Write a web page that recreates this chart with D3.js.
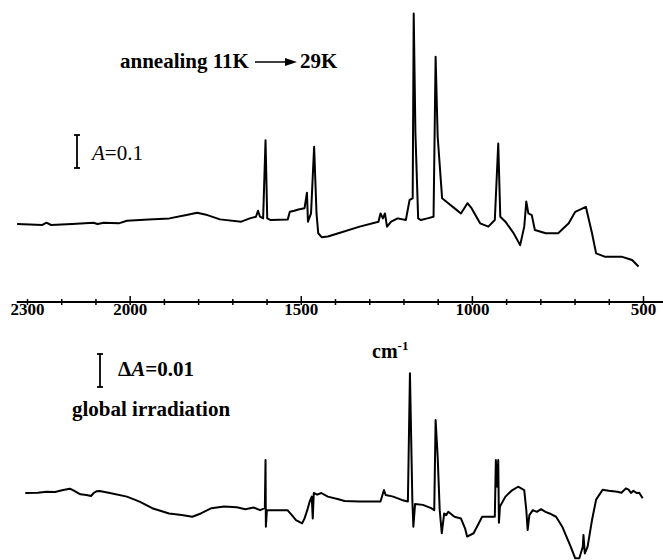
<!DOCTYPE html>
<html>
<head>
<meta charset="utf-8">
<title>IR difference spectra</title>
<style>
  body{margin:0;background:#fff;}
  svg{display:block;}
  text{font-family:"Liberation Serif","Times New Roman",serif;fill:#000;}
</style>
<script src="https://d3js.org/d3.v7.min.js"></script>
</head>
<body>
<script>
// top trace: annealing 11K -> 29K (absorbance)
var wnTop = [2329,2255,2243,2230,2168,2106,2094,2075,2032,2008,1945,1884,1834,1803,1773,1736,1674,1649,1631,1625,1619,1610,1603,1598,1588,1538,1532,1519,1507,1489,1482,1479,1470,1461,1454,1449,1439,1421,1390,1328,1273,1267,1260,1254,1248,1236,1217,1193,1182,1173,1170,1165,1157,1149,1130,1112,1106,1100,1087,1069,1044,1032,1013,1001,976,952,933,923,917,902,878,859,847,841,835,825,816,784,748,717,698,667,649,637,612,563,532,513];
var absTop = [0,-0.003,0.004,-0.003,0,0.004,0,0.004,0.002,0.010,0.014,0.017,0.027,0.034,0.027,0.014,0.007,0.017,0.022,0.040,0.022,0.017,0.254,0.017,0.012,0.014,0.037,0.040,0.044,0.048,0.095,0.007,0.032,0.234,0.032,-0.028,-0.040,-0.038,-0.028,-0.008,0.007,0.032,0.017,0.032,-0.008,0.007,0.017,0.012,0.073,0.078,0.638,0.275,0.017,0.012,0.017,0.022,0.507,0.265,0.078,0.063,0.042,0.032,0.063,0.048,0.002,-0.008,0.012,0.244,0.022,0.007,-0.028,-0.064,-0.008,0.068,0.032,0.027,-0.018,-0.028,-0.028,0.002,0.037,0.052,-0.028,-0.089,-0.099,-0.099,-0.109,-0.129];

// bottom trace: global irradiation (difference absorbance)
var wnBot = [2305,2268,2243,2218,2194,2175,2163,2144,2126,2113,2105,2097,2088,2058,2008,1971,1934,1885,1848,1817,1792,1761,1724,1687,1662,1638,1619,1605,1603,1602,1599,1539,1526,1514,1496,1489,1481,1474,1468,1465,1462,1452,1440,1421,1390,1372,1329,1267,1257,1252,1230,1205,1187,1181,1174,1171,1166,1143,1119,1110,1106,1100,1094,1088,1081,1075,1069,1051,1032,1020,1014,995,970,946,933,930,926,923,921,918,902,884,865,847,841,837,832,822,810,798,785,773,754,736,711,698,686,676,674,670,662,649,637,618,600,575,563,550,542,535,528,519,511,501];
var absBot = [0,0.0001,0.0004,0.0003,0.0009,0.0013,0.0007,-0.0004,-0.0006,-0.0009,0,0.0005,0.0006,0,-0.0011,-0.0026,-0.0046,-0.0062,-0.0067,-0.0072,-0.0062,-0.0046,-0.0041,-0.0043,-0.0049,-0.0044,-0.0052,-0.0046,0.0100,-0.0102,-0.0052,-0.0052,-0.0067,-0.0082,-0.0092,-0.0077,-0.0052,-0.0026,-0.0011,-0.0077,0,-0.0005,0,-0.0011,-0.0019,-0.0024,-0.0026,-0.0026,0.0009,-0.0006,-0.0011,-0.0021,-0.0026,0.0363,-0.0021,-0.0102,-0.0033,-0.0036,-0.0046,-0.0052,0.0221,0.0110,-0.0052,-0.0122,-0.0062,-0.0067,-0.0057,-0.0072,-0.0077,-0.0107,-0.0132,-0.0122,-0.0072,-0.0072,-0.0072,0.0100,0.0019,0.0100,-0.0090,-0.0041,-0.0011,0.0007,0.0019,0.0009,-0.0052,-0.0112,-0.0067,-0.0052,-0.0057,-0.0049,-0.0057,-0.0062,-0.0072,-0.0102,-0.0163,-0.0198,-0.0198,-0.0163,-0.0127,-0.0183,-0.0163,-0.0082,-0.0020,0.0010,0.0007,0.0004,0.0001,0.0014,0.0010,0,0.0007,0,0.0001,-0.0016];

var tickLabels = [2300, 2000, 1500, 1000, 500];
var minorTicks = d3.range(2300, 499, -100);

var width = 663, height = 560;

var svg = d3.select("body").append("svg")
            .attr("width", width)
            .attr("height", height);

var x = d3.scaleLinear().domain([2300, 500]).range([27, 643]);
var yTop = d3.scaleLinear().domain([0, 0.1]).range([224, 191]);
var yBot = d3.scaleLinear().domain([0, 0.01]).range([493, 460]);

var topData = wnTop.map((w,i)=>[w, absTop[i]]);
var botData = wnBot.map((w,i)=>[w, absBot[i]]);

var lineTop = d3.line().x(d=>x(d[0])).y(d=>yTop(d[1]));
var lineBot = d3.line().x(d=>x(d[0])).y(d=>yBot(d[1]));

[[topData, lineTop], [botData, lineBot]].forEach(p=>{
  svg.append("path")
     .attr("d", p[1](p[0]))
     .attr("fill","none")
     .attr("stroke","#000")
     .attr("stroke-width",2)
     .attr("stroke-linejoin","round");
});

// axis between the traces
var axisY = 302;
svg.append("line")
   .attr("x1", x(2330)).attr("x2", 663)
   .attr("y1", axisY).attr("y2", axisY)
   .attr("stroke","#000").attr("stroke-width",2);

var axisB = svg.append("g")
   .attr("transform","translate(0,"+axisY+")")
   .call(d3.axisBottom(x).tickValues(minorTicks).tickSize(3)
          .tickFormat(d=>tickLabels.includes(d) ? d : ""));
var axisT = svg.append("g")
   .attr("transform","translate(0,"+axisY+")")
   .call(d3.axisTop(x).tickValues(minorTicks).tickSize(3).tickFormat(""));
axisT.selectAll(".tick line").filter(d=>d%500===0).attr("y2",-6);
[axisB, axisT].forEach(g=>{
  g.select(".domain").remove();
  g.selectAll(".tick line").attr("stroke","#000").attr("stroke-width",1.5);
});
axisB.selectAll("text")
     .attr("y",1).attr("dy","0.72em")
     .style("font-size","17px").style("font-weight","bold")
     .style("font-family",'"Liberation Serif",serif');

// unit label
var cm = svg.append("text")
   .attr("x",372).attr("y",358)
   .style("font-size","20px").style("font-weight","bold");
cm.append("tspan").text("cm");
cm.append("tspan").attr("dy",-8).style("font-size","13px").text("-1");

// scale bars
function scaleBar(xPos, yBottom, len){
  var g = svg.append("g");
  g.append("line").attr("x1",xPos).attr("x2",xPos)
    .attr("y1",yBottom).attr("y2",yBottom-len)
    .attr("stroke","#000").attr("stroke-width",1.8);
  [yBottom, yBottom-len].forEach(yy=>{
    g.append("line").attr("x1",xPos-3).attr("x2",xPos+3)
      .attr("y1",yy).attr("y2",yy)
      .attr("stroke","#000").attr("stroke-width",1.8);
  });
}
scaleBar(77, 168, yTop(0)-yTop(0.1));
scaleBar(100, 387, yBot(0)-yBot(0.01));

var tA = svg.append("text").attr("x",92).attr("y",160).style("font-size","21px");
tA.append("tspan").style("font-style","italic").text("A");
tA.append("tspan").text("=0.1");

var tdA = svg.append("text").attr("x",118).attr("y",376)
   .style("font-size","21px").style("font-weight","bold");
tdA.append("tspan").text("\u0394");
tdA.append("tspan").style("font-style","italic").text("A");
tdA.append("tspan").text("=0.01");

svg.append("text").attr("x",72).attr("y",416)
   .style("font-size","21px").style("font-weight","bold")
   .text("global irradiation");

// annealing label with arrow
svg.append("text").attr("x",120).attr("y",68)
   .style("font-size","21px").style("font-weight","bold")
   .text("annealing 11K");
svg.append("line").attr("x1",255).attr("x2",288)
   .attr("y1",62).attr("y2",62)
   .attr("stroke","#000").attr("stroke-width",1.5);
svg.append("path").attr("d","M285,58L297,62L285,66Z").attr("fill","#000");
svg.append("text").attr("x",300).attr("y",68)
   .style("font-size","21px").style("font-weight","bold")
   .text("29K");
</script>
</body>
</html>
